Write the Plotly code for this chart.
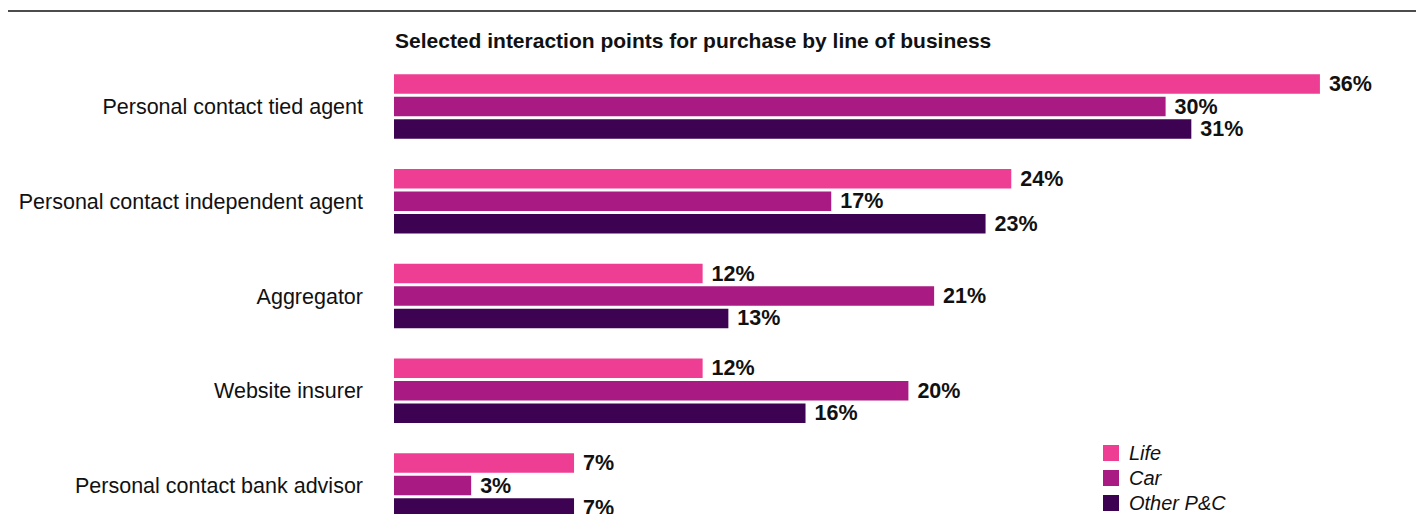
import plotly.graph_objects as go

# Interaction points for purchase, share of respondents (%) by line of business
categories = [
    "Personal contact tied agent",
    "Personal contact independent agent",
    "Aggregator",
    "Website insurer",
    "Personal contact bank advisor",
]
life = [36, 24, 12, 12, 7]
car = [30, 17, 21, 20, 3]
other_pc = [31, 23, 13, 16, 7]

series_names = ["Life", "Car", "Other P&C"]
series_values = [life, car, other_pc]
series_colors = ["#EE3E94", "#A91A82", "#3E0252"]

W, H = 1416, 514
ML, MR, MT, MB = 394, 16, 60, 0
plot_w = W - ML - MR
plot_h = H - MT - MB
px_per_pct = 25.72
group_step = 94.75
first_center = 106.5

FONT = "Liberation Sans, Arial, Helvetica, sans-serif"

fig = go.Figure()
for name, vals, col in zip(series_names, series_values, series_colors):
    fig.add_trace(go.Bar(
        y=categories, x=vals, name=name, orientation="h",
        marker=dict(color=col, line=dict(width=0)),
        text=[f" {v}%" for v in vals], textposition="outside",
        textfont=dict(family=FONT, size=21.5, color="#111111", weight="bold"),
        constraintext="none", cliponaxis=False, showlegend=False,
    ))

top_units = (first_center - MT) / group_step
y_top = -top_units
y_bottom = y_top + plot_h / group_step

fig.update_layout(
    width=W, height=H,
    margin=dict(l=ML, r=MR, t=MT, b=MB, pad=0),
    paper_bgcolor="white", plot_bgcolor="white",
    barmode="group", bargap=0.29, bargroupgap=0.13,
    font=dict(family=FONT, color="#111111"),
    xaxis=dict(range=[0, plot_w / px_per_pct], visible=False, fixedrange=True),
    yaxis=dict(range=[y_bottom, y_top], showgrid=False, zeroline=False,
               showline=False, ticks="", ticklabelstandoff=30,
               tickfont=dict(family=FONT, size=21.5, color="#111111")),
    uniformtext=dict(mode=False),
)

# top rule
fig.add_shape(type="line", xref="paper", yref="paper",
              x0=(8 - ML) / plot_w, x1=(W - ML) / plot_w,
              y0=(H - 11) / plot_h, y1=(H - 11) / plot_h,
              line=dict(color="#111111", width=1.5))

# title
fig.add_annotation(text="<b>Selected interaction points for purchase by line of business</b>",
                   xref="paper", yref="paper", x=(393 - ML) / plot_w, y=(H - 40) / plot_h,
                   xanchor="left", yanchor="middle", showarrow=False,
                   font=dict(family=FONT, size=21, color="#111111"))

# legend
leg_x = 1103
leg_y = [453, 478, 503]
for name, col, yc in zip(series_names, series_colors, leg_y):
    fig.add_shape(type="rect", xref="paper", yref="paper",
                  x0=(leg_x - ML) / plot_w, x1=(leg_x + 16 - ML) / plot_w,
                  y0=(H - yc - 8) / plot_h, y1=(H - yc + 8) / plot_h,
                  fillcolor=col, line=dict(width=0))
    fig.add_annotation(text=name, xref="paper", yref="paper",
                       x=(leg_x + 24 - ML) / plot_w, y=(H - yc) / plot_h,
                       xanchor="left", yanchor="middle", showarrow=False,
                       font=dict(family=FONT, size=20, color="#111111", style="italic"))

fig.write_html("out.html")
